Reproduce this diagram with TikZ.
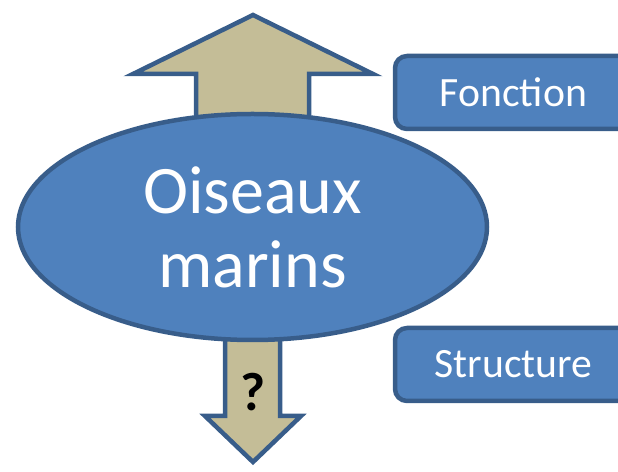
\documentclass[tikz,border=0pt]{standalone}
\usepackage{fontspec}
\setmainfont{Carlito}
\usepackage{tikz}
\usetikzlibrary{shapes.geometric, positioning, calc}
\definecolor{birdblue}{HTML}{4F81BD}
\definecolor{edgeblue}{HTML}{385D8A}
\definecolor{arrowtan}{HTML}{C4BD97}
\begin{document}
\begin{tikzpicture}[
  x=1pt, y=1pt,
  bigarrow/.style={draw=edgeblue, fill=arrowtan, line width=4.5pt, line join=miter},
  topic/.style={draw=edgeblue, fill=birdblue, line width=4.5pt, rounded corners=12pt, minimum width=237pt, minimum height=73pt, inner sep=0pt, text=white, font=\fontsize{41.7}{50}\selectfont},
  oval/.style={ellipse, draw=edgeblue, fill=birdblue, line width=4.5pt, minimum width=469pt, minimum height=226pt, inner sep=0pt, align=center, text=white, font=\fontsize{68}{74}\selectfont}
]
  \useasboundingbox (0,0) rectangle (618,471);
  \clip (0,0) rectangle (618,471);
  \draw[bigarrow] (196,300) -- (196,397) -- (133,397) -- (253,456) -- (373,397) -- (309,397) -- (309,300) -- cycle;
  \draw[bigarrow] (225,200) -- (225,55) -- (205,55) -- (253,9) -- (301,55) -- (280,55) -- (280,200) -- cycle;
  \node[oval] (birds) at (252.5,244) {Oiseaux\\marins};
  \node[font=\fontsize{54}{60}\selectfont\bfseries] (query) at (253,79) {?};
  \node[topic] (function) at (513.5,378.5) {Fonction};
  \node[topic] (structure) at (513.5,106.5) {Structure};
\end{tikzpicture}
\end{document}
